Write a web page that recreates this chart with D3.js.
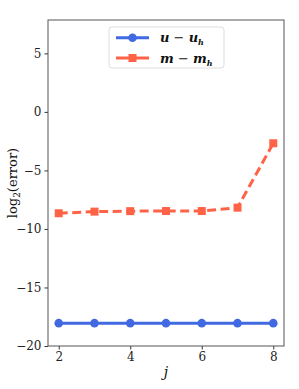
<!DOCTYPE html>
<html>
<head>
<meta charset="utf-8">
<script src="https://cdn.jsdelivr.net/npm/d3@7"></script>
<style>
body{margin:0;background:#fff;}
text{font-family:"DejaVu Serif","Liberation Serif",serif;}
</style>
</head>
<body>
<div id="chart"></div>
<script>
// levels j and log2 errors
var levels = [2,3,4,5,6,7,8]
var errU = [-18.05,-18.05,-18.05,-18.05,-18.05,-18.05,-18.05]
var errM = [-8.66,-8.52,-8.48,-8.47,-8.47,-8.18,-2.68]
var yTicks = [5,0,-5,-10,-15,-20]
var xTicks = [2,4,6,8]

var W = 299, H = 389
var margin = {top:20, right:15, bottom:43, left:48}
var width = W - margin.left - margin.right,
height = H - margin.top - margin.bottom

var svg = d3.select("#chart").append("svg").attr("width",W).attr("height",H)
var g = svg.append("g").attr("transform","translate("+margin.left+","+margin.top+")")

var x = d3.scaleLinear().domain([1.7,8.3]).range([0,width])
var y = d3.scaleLinear().domain([-20,7.85]).range([height,0])

var fmt = function(d){ return d<0 ? "\u2212"+Math.abs(d) : ""+d }

var xAxis = g.append("g").attr("transform","translate(0,"+height+")")
	.call(d3.axisBottom(x).tickValues(xTicks).tickSize(3.5).tickPadding(3).tickFormat(fmt))
var yAxis = g.append("g")
	.call(d3.axisLeft(y).tickValues(yTicks).tickSize(3.5).tickPadding(3).tickFormat(fmt))
xAxis.select(".domain").remove()
yAxis.select(".domain").remove()
svg.selectAll(".tick text").attr("font-size","12px").attr("fill","#222").style("font-family","'DejaVu Serif',serif")
svg.selectAll(".tick line").attr("stroke","#333")

// frame
g.append("rect").attr("x",0).attr("y",0).attr("width",width).attr("height",height)
	.attr("fill","none").attr("stroke","#555").attr("stroke-width",1)

var line = d3.line().x(function(d){return x(d[0])}).y(function(d){return y(d[1])})

var uData = levels.map(function(j,i){return [j,errU[i]]})
var mData = levels.map(function(j,i){return [j,errM[i]]})

g.append("path").datum(uData).attr("d",line).attr("fill","none")
	.attr("stroke","#4169e1").attr("stroke-width",3)
g.selectAll(".uPt").data(uData).enter().append("circle").attr("class","uPt")
	.attr("cx",function(d){return x(d[0])}).attr("cy",function(d){return y(d[1])})
	.attr("r",4.3).attr("fill","#4169e1")

g.append("path").datum(mData).attr("d",line).attr("fill","none")
	.attr("stroke","#ff6347").attr("stroke-width",3).attr("stroke-dasharray","9,4.5")
g.selectAll(".mPt").data(mData).enter().append("rect").attr("class","mPt")
	.attr("x",function(d){return x(d[0])-4}).attr("y",function(d){return y(d[1])-4})
	.attr("width",8).attr("height",8).attr("fill","#ff6347")

// legend
var leg = svg.append("g").attr("transform","translate(109,27)")
leg.append("rect").attr("width",115).attr("height",41).attr("rx",3)
	.attr("fill","#fff").attr("fill-opacity",0.8).attr("stroke","#ddd")
leg.append("line").attr("x1",7).attr("x2",40).attr("y1",10.7).attr("y2",10.7)
	.attr("stroke","#4169e1").attr("stroke-width",3)
leg.append("circle").attr("cx",23.5).attr("cy",10.7).attr("r",4.3).attr("fill","#4169e1")
leg.append("line").attr("x1",7).attr("x2",40).attr("y1",31).attr("y2",31)
	.attr("stroke","#ff6347").attr("stroke-width",3)
leg.append("rect").attr("x",19.5).attr("y",27).attr("width",8).attr("height",8).attr("fill","#ff6347")

function legLabel(ty, sym){
	var t = leg.append("text").attr("x",51).attr("y",ty).attr("font-size","13px")
		.attr("font-weight","bold").attr("font-style","italic").attr("fill","#111")
	t.append("tspan").text(sym)
	t.append("tspan").attr("font-weight","normal").attr("font-style","normal").text(" \u2212 ")
	t.append("tspan").text(sym)
	t.append("tspan").attr("font-size","8px").attr("dy",3).text("h")
}
legLabel(15,"u")
legLabel(35.5,"m")

// axis labels
svg.append("text").attr("x",margin.left+x(5)).attr("y",377).attr("text-anchor","middle")
	.attr("font-size","14px").attr("font-style","italic").attr("fill","#111").text("j")
var yl = svg.append("text").attr("transform","translate(17,"+(margin.top+height/2)+") rotate(-90)")
	.attr("text-anchor","middle").attr("font-size","13px").attr("fill","#111")
yl.append("tspan").text("log")
yl.append("tspan").attr("font-size","9px").attr("dy",3).text("2")
yl.append("tspan").attr("dy",-3).text("(error)")
</script>
</body>
</html>
